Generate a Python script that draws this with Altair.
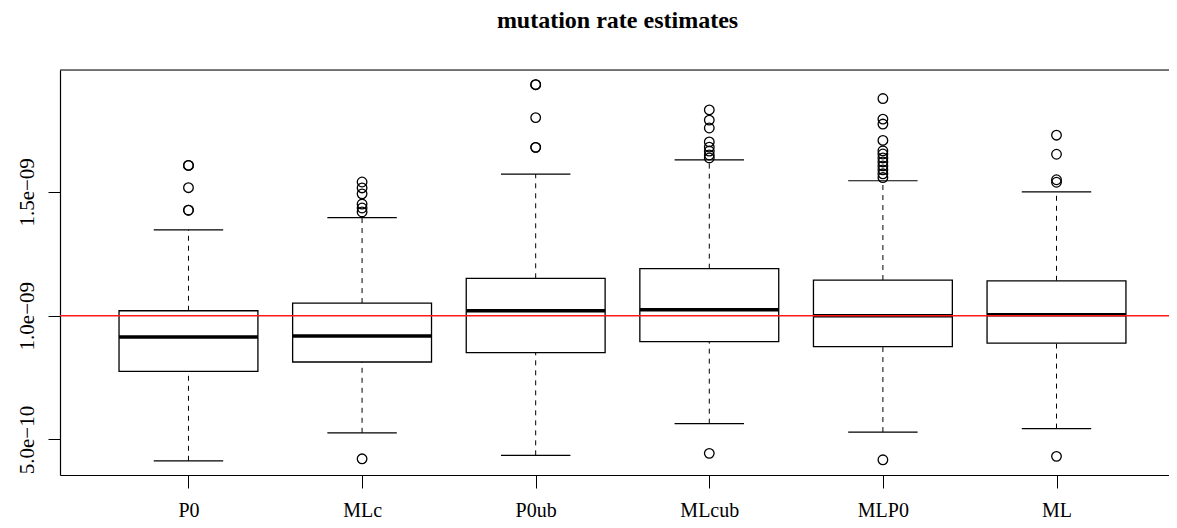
import altair as alt
import pandas as pd

# ---- data ----
names = ["P0", "MLc", "P0ub", "MLcub", "MLP0", "ML"]
positions = [1, 2, 3, 4, 5, 6]
lower_whisker = [0.414e-9, 0.527e-9, 0.436e-9, 0.564e-9, 0.530e-9, 0.544e-9]
q1 = [0.775e-9, 0.813e-9, 0.851e-9, 0.895e-9, 0.875e-9, 0.889e-9]
median = [0.914e-9, 0.918e-9, 1.020e-9, 1.024e-9, 1.000e-9, 1.004e-9]
q3 = [1.020e-9, 1.051e-9, 1.151e-9, 1.190e-9, 1.144e-9, 1.141e-9]
upper_whisker = [1.347e-9, 1.396e-9, 1.572e-9, 1.629e-9, 1.545e-9, 1.500e-9]

out_P0 = [1.607e-9, 1.607e-9, 1.517e-9, 1.426e-9, 1.426e-9]
out_MLc = [1.540e-9, 1.516e-9, 1.492e-9, 1.451e-9, 1.435e-9, 1.419e-9, 0.422e-9]
out_P0ub = [1.933e-9, 1.933e-9, 1.800e-9, 1.680e-9, 1.680e-9]
out_MLcub = [1.831e-9, 1.790e-9, 1.758e-9, 1.702e-9, 1.681e-9, 1.665e-9,
             1.649e-9, 1.637e-9, 0.444e-9]
out_MLP0 = [1.877e-9, 1.794e-9, 1.774e-9, 1.708e-9, 1.666e-9, 1.653e-9,
            1.637e-9, 1.621e-9, 1.605e-9, 1.589e-9, 1.573e-9, 1.558e-9, 0.418e-9]
out_ML = [1.729e-9, 1.652e-9, 1.549e-9, 1.539e-9, 0.432e-9]

y_tick_values = [5e-10, 1e-9, 1.5e-9]
y_tick_labels = ["5.0e\u221210", "1.0e\u221209", "1.5e\u221209"]
reference_value = 1e-9
title_text = "mutation rate estimates"

# ---- tables ----
boxes = pd.DataFrame({
    "name": names, "pos": positions, "lw": lower_whisker, "q1": q1,
    "med": median, "q3": q3, "uw": upper_whisker,
})
outlier_lists = [out_P0, out_MLc, out_P0ub, out_MLcub, out_MLP0, out_ML]
out_rows = []
for p, n, vals in zip(positions, names, outlier_lists):
    for v in vals:
        out_rows.append({"name": n, "pos": p, "value": v})
outliers = pd.DataFrame(out_rows)

W, H = 1109, 405
PAD_TOP = 62
FONT = "Liberation Serif"
xscale = alt.Scale(domain=[0.26, 6.648], nice=False, zero=False)
yscale = alt.Scale(domain=[0.3566e-9, 1.9923e-9], nice=False, zero=False)

x_label_expr = " : ".join(
    [f"datum.value == {p} ? '{n}'" for p, n in zip(positions, names)]) + " : ''"
y_label_expr = " : ".join(
    [f"abs(datum.value - {v}) < 1e-12 ? '{l}'" for v, l in zip(y_tick_values, y_tick_labels)]) + " : ''"

xaxis = alt.Axis(values=positions, labelExpr=x_label_expr, title=None, grid=False,
                 tickSize=13, labelPadding=28, labelBaseline="alphabetic",
                 labelFont=FONT, labelFontSize=20, labelColor="black",
                 domainColor="black", tickColor="black", labelFlush=False,
                 labelOverlap=False, domainWidth=1.2, tickWidth=1)
yaxis = alt.Axis(values=y_tick_values, labelExpr=y_label_expr, title=None, grid=False,
                 tickSize=12, labelPadding=15, labelAngle=270, labelAlign="center",
                 labelBaseline="alphabetic", labelFont=FONT, labelFontSize=21,
                 labelColor="black", domainColor="black", tickColor="black",
                 labelOverlap=False, labelFlush=False, domainWidth=1.2, tickWidth=1)

base = alt.Chart(boxes).transform_calculate(
    xlo="datum.pos - 0.4", xhi="datum.pos + 0.4",
    clo="datum.pos - 0.2", chi="datum.pos + 0.2",
)

whisk_up = base.mark_rule(color="black", strokeWidth=1, strokeDash=[5, 5]).encode(
    x=alt.X("pos:Q", scale=xscale, axis=xaxis),
    y=alt.Y("q3:Q", scale=yscale, axis=yaxis), y2="uw:Q")
whisk_lo = base.mark_rule(color="black", strokeWidth=1, strokeDash=[5, 5]).encode(
    x=alt.X("pos:Q", scale=xscale), y=alt.Y("lw:Q", scale=yscale), y2="q1:Q")
cap_up = base.mark_rule(color="black", strokeWidth=1.2).encode(
    x=alt.X("clo:Q", scale=xscale), x2="chi:Q", y=alt.Y("uw:Q", scale=yscale))
cap_lo = base.mark_rule(color="black", strokeWidth=1.2).encode(
    x=alt.X("clo:Q", scale=xscale), x2="chi:Q", y=alt.Y("lw:Q", scale=yscale))
box = base.mark_rect(fill="white", stroke="black", strokeWidth=1.3).encode(
    x=alt.X("xlo:Q", scale=xscale), x2="xhi:Q",
    y=alt.Y("q1:Q", scale=yscale), y2="q3:Q")
med = base.mark_rule(color="black", strokeWidth=3.5).encode(
    x=alt.X("xlo:Q", scale=xscale), x2="xhi:Q", y=alt.Y("med:Q", scale=yscale))

pts = alt.Chart(outliers).mark_point(shape="circle", filled=False, size=92,
                                     strokeWidth=1.3, color="black", opacity=1).encode(
    x=alt.X("pos:Q", scale=xscale), y=alt.Y("value:Q", scale=yscale))

red = alt.Chart(pd.DataFrame({"v": [reference_value]})).mark_rule(
    color="#ff1a1a", strokeWidth=1.5).encode(
    y=alt.Y("v:Q", scale=yscale), x=alt.value(0), x2=alt.value(W))

top_frame = alt.Chart(pd.DataFrame({"v": [0]})).mark_rule(
    color="black", strokeWidth=1.2).encode(
    x=alt.value(0), x2=alt.value(W), y=alt.value(0))

title = alt.Chart(pd.DataFrame({"t": [title_text]})).mark_text(
    font=FONT, fontSize=24, fontWeight="bold", color="black",
    align="center", baseline="alphabetic").encode(
    text="t:N", x=alt.value(557.5), y=alt.value(20 - PAD_TOP))

chart = alt.layer(whisk_up, whisk_lo, cap_up, cap_lo, box, med, pts, red,
                  top_frame, title).properties(
    width=W, height=H,
    autosize=alt.AutoSizeParams(type="none"),
    padding={"left": 52, "top": PAD_TOP, "right": 0, "bottom": 45},
).configure_view(stroke="transparent").configure(background="white")

chart.save("out.html", embed_options={"renderer": "svg", "actions": False})
